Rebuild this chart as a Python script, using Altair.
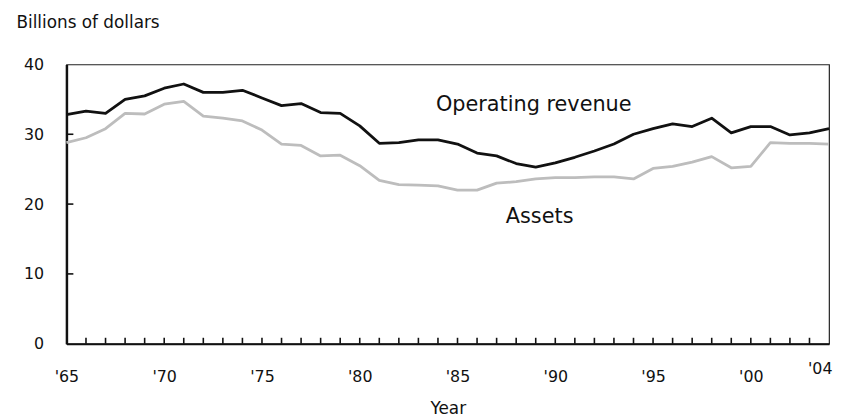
import altair as alt
import pandas as pd

# ---- data ----
years = list(range(1965, 2005))
revenue = [32.8, 33.3, 33.0, 35.0, 35.5, 36.6, 37.2, 36.0, 36.0, 36.3,
           35.2, 34.1, 34.4, 33.1, 33.0, 31.2, 28.7, 28.8, 29.2, 29.2,
           28.6, 27.3, 26.9, 25.8, 25.3, 25.9, 26.7, 27.6, 28.6, 30.0,
           30.8, 31.5, 31.1, 32.3, 30.2, 31.1, 31.1, 29.9, 30.2, 30.8]
assets = [28.8, 29.5, 30.8, 33.0, 32.9, 34.3, 34.7, 32.6, 32.3, 31.9,
          30.6, 28.6, 28.4, 26.9, 27.0, 25.5, 23.4, 22.8, 22.7, 22.6,
          22.0, 22.0, 23.0, 23.2, 23.6, 23.8, 23.8, 23.9, 23.9, 23.6,
          25.1, 25.4, 26.0, 26.8, 25.2, 25.4, 28.8, 28.7, 28.7, 28.6]
series_names = ["Operating revenue", "Assets"]
series_colors = ["#111111", "#bdbdbd"]

label_years = [1965, 1970, 1975, 1980, 1985, 1990, 1995, 2000, 2004]
minor_tick_years = list(range(1966, 2004))
y_values = [0, 10, 20, 30, 40]
y_inner_ticks = [10, 20, 30]

annot_text = ["Operating revenue", "Assets"]
annot_year = [1988.9, 1989.2]
annot_value = [34.2, 18.2]

FONT = "DejaVu Sans"
INK = "#111111"

df = pd.DataFrame({
    "year": years + years,
    "value": revenue + assets,
    "series": [series_names[0]] * len(years) + [series_names[1]] * len(years),
})
ticks_df = pd.DataFrame({"year": minor_tick_years})
yticks_df = pd.DataFrame({"value": y_inner_ticks})
annot_df = pd.DataFrame({"label": annot_text, "year": annot_year, "value": annot_value})

xscale = alt.Scale(domain=[1965, 2004], nice=False, zero=False)
yscale = alt.Scale(domain=[0, 40], nice=False)

is_last = "datum.value == 2004"
x_axis = alt.Axis(
    values=label_years,
    format="d",
    labelExpr="\"'\" + slice(datum.label, 2)",
    tickSize=0,
    labelFlush=False,
    labelOverlap=False,
    labelFont=FONT,
    labelFontSize=16,
    labelColor=INK,
    labelAlign={"condition": {"test": is_last, "value": "right"}, "value": "center"},
    labelPadding={"condition": {"test": is_last, "value": 17}, "value": 25},
    labelOffset={"condition": {"test": is_last, "value": 3}, "value": 0},
    domainColor=INK,
    domainWidth=2,
    grid=False,
    titleFont=FONT,
    titleFontSize=17,
    titleFontWeight="normal",
    titleColor=INK,
    titlePadding=16,
)
y_axis = alt.Axis(
    values=y_values,
    tickSize=0,
    labelFont=FONT,
    labelFontSize=16,
    labelColor=INK,
    labelPadding=23,
    domainColor=INK,
    domainWidth=2.5,
    grid=False,
    titleFont=FONT,
    titleFontSize=17,
    titleFontWeight="normal",
    titleColor=INK,
    titleAngle=0,
    titleAlign="left",
    titleBaseline="middle",
    titleX=-51,
    titleY=-42,
)

X = alt.X("year:Q", scale=xscale, axis=x_axis, title="Year")
Y = alt.Y("value:Q", scale=yscale, axis=y_axis, title="Billions of dollars")

lines = alt.Chart(df).mark_line(strokeWidth=2.8, strokeJoin="round").encode(
    x=X,
    y=Y,
    color=alt.Color("series:N", scale=alt.Scale(domain=series_names, range=series_colors), legend=None),
    order=alt.Order("series:N", sort="ascending"),
)

xticks = alt.Chart(ticks_df).mark_rule(color=INK, strokeWidth=1.6).encode(
    x=X,
    y=alt.value(282),
    y2=alt.value(276),
)

yticks = alt.Chart(yticks_df).mark_rule(color=INK, strokeWidth=1.6).encode(
    y=Y,
    x=alt.value(0),
    x2=alt.value(7),
)

annots = alt.Chart(annot_df).mark_text(font=FONT, fontSize=21, color=INK).encode(
    x=X,
    y=Y,
    text="label:N",
)

chart = alt.layer(lines, xticks, yticks, annots).properties(
    width=770,
    height=282,
    autosize=alt.AutoSizeParams(type="none"),
    padding={"left": 59, "top": 55, "right": 4, "bottom": 72},
).configure_view(stroke="#222222", strokeWidth=1.2)

chart.save("out.html", embed_options={"renderer": "svg", "actions": False})
